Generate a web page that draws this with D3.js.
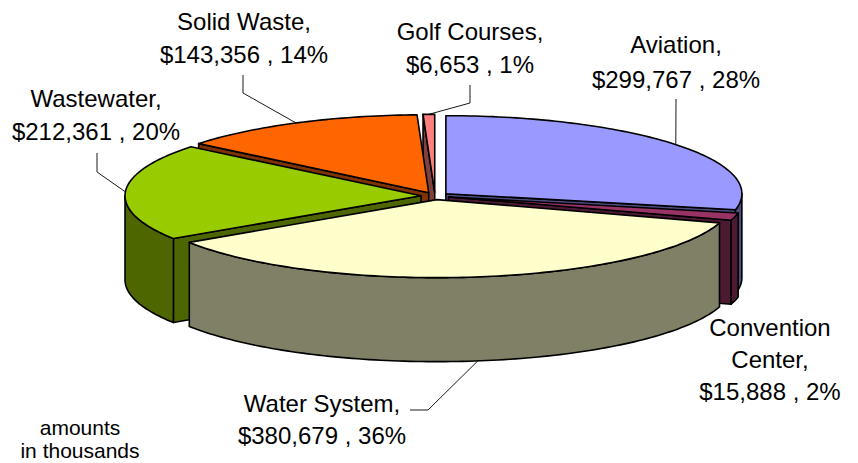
<!DOCTYPE html>
<html>
<head>
<meta charset="utf-8">
<script src="https://cdn.jsdelivr.net/npm/d3@7"></script>
<style>
  html, body { margin: 0; padding: 0; background: #fff; }
  svg text { font-family: "Liberation Sans", Arial, sans-serif; fill: #000; }
</style>
</head>
<body>
<svg id="pieChart" width="858" height="463"></svg>
<script>
// data, clockwise from 12 o'clock
const categories = ["Aviation", "Convention Center", "Water System", "Wastewater", "Solid Waste", "Golf Courses"];
const amounts = [299767, 15888, 380679, 212361, 143356, 6653];
const nameLines = [["Aviation,"], ["Convention", "Center,"], ["Water System,"], ["Wastewater,"], ["Solid Waste,"], ["Golf Courses,"]];
const noteLines = ["amounts", "in thousands"];

// excel default pie palette (top face / side = half brightness)
const topColors = ["#9999FF", "#993366", "#FFFFCC", "#99CC00", "#FF6600", "#FF8080"];
const sideColors = ["#4D4D80", "#4D1A33", "#808066", "#4D6600", "#803300", "#804040"];

// label placement (text centre, first baseline, line step, leader elbow points)
const labelLayout = [
  {x: 676, y: 53, dy: 35, leader: [[676, 99]]},
  {x: 770, y: 336, dy: 32, leader: [[730, 305]]},
  {x: 322, y: 412, dy: 32, leader: [[428, 410], [410, 410]]},
  {x: 96, y: 107, dy: 33, leader: [[97, 172], [97, 153]]},
  {x: 244, y: 30, dy: 33, leader: [[243, 93], [243, 75]]},
  {x: 470, y: 40, dy: 33, leader: [[470, 103], [470, 85]]}
];

let svg = d3.select('#pieChart');

// pie geometry
let cx = 435, cy = 196;
let rx = 296, ry = 78;
let depth = 84;
let explode = 14;

let total = d3.sum(amounts);
let fmtMoney = d3.format("$,");
let fmtPct = d3.format(".0%");

let slices = d3.pie().sort(null).value(d => d)(amounts)
  .map((d, i) => {
    let mid = (d.startAngle + d.endAngle) / 2;
    return {
      i: i,
      a0: d.startAngle,
      a1: d.endAngle,
      mid: mid,
      ox: cx + explode * Math.sin(mid),
      oy: cy - explode * Math.cos(mid) * ry / rx
    };
  });

function rim(s, a, dz) {
  return [s.ox + rx * Math.sin(a), s.oy - ry * Math.cos(a) + dz];
}

function arcPts(s, a0, a1, dz) {
  let n = Math.max(2, Math.ceil((a1 - a0) / 0.02));
  return d3.range(n + 1).map(k => rim(s, a0 + (a1 - a0) * k / n, dz));
}

let line = d3.line();
let closed = pts => line(pts) + "Z";

// back slices first
let order = slices.slice().sort((a, b) => Math.cos(b.mid) - Math.cos(a.mid));

let pie = svg.append('g').attr('id', 'pie');

order.forEach(s => {
  let g = pie.append('g');
  let v = [s.ox, s.oy];
  let vb = [s.ox, s.oy + depth];
  let faces = [];

  // cut faces along the radial edges
  if (Math.sin(s.a0) < -1e-6) {
    faces.push([v, rim(s, s.a0, 0), rim(s, s.a0, depth), vb]);
  }
  if (Math.sin(s.a1) > 1e-6) {
    faces.push([v, rim(s, s.a1, 0), rim(s, s.a1, depth), vb]);
  }
  // outer wall, front half only
  let lo = Math.max(s.a0, Math.PI / 2), hi = Math.min(s.a1, 3 * Math.PI / 2);
  if (hi > lo) {
    faces.push(arcPts(s, lo, hi, 0).concat(arcPts(s, lo, hi, depth).reverse()));
  }

  g.selectAll('path.side')
    .data(faces)
    .enter()
    .append('path')
    .attr('class', 'side')
    .attr('d', closed)
    .attr('fill', sideColors[s.i])
    .attr('stroke', '#000')
    .attr('stroke-width', 1.6)
    .attr('stroke-linejoin', 'round');

  g.append('path')
    .attr('class', 'top')
    .attr('d', closed([v].concat(arcPts(s, s.a0, s.a1, 0))))
    .attr('fill', topColors[s.i])
    .attr('stroke', '#000')
    .attr('stroke-width', 1.6)
    .attr('stroke-linejoin', 'round');
});

// leader lines, anchored on the rim at the slice bisector
let leaders = svg.append('g').attr('id', 'leaders');
slices.forEach(s => {
  let front = Math.cos(s.mid) < 0;
  let anchor = rim(s, s.mid, front ? depth : 0);
  leaders.append('path')
    .attr('d', line([anchor].concat(labelLayout[s.i].leader)))
    .attr('fill', 'none')
    .attr('stroke', '#000')
    .attr('stroke-width', 0.9);
});

// data labels
let labels = svg.append('g').attr('id', 'labels');
slices.forEach(s => {
  let lay = labelLayout[s.i];
  let lines = nameLines[s.i].concat([fmtMoney(amounts[s.i]) + " , " + fmtPct(amounts[s.i] / total)]);
  let t = labels.append('text')
    .attr('text-anchor', 'middle')
    .style('font-size', '24px');
  t.selectAll('tspan')
    .data(lines)
    .enter()
    .append('tspan')
    .attr('x', lay.x)
    .attr('y', (d, k) => lay.y + k * lay.dy)
    .text(d => d);
});

// units note
svg.append('text')
  .attr('text-anchor', 'middle')
  .style('font-size', '21px')
  .selectAll('tspan')
  .data(noteLines)
  .enter()
  .append('tspan')
  .attr('x', 80)
  .attr('y', (d, k) => 435 + k * 23)
  .text(d => d);
</script>
</body>
</html>
